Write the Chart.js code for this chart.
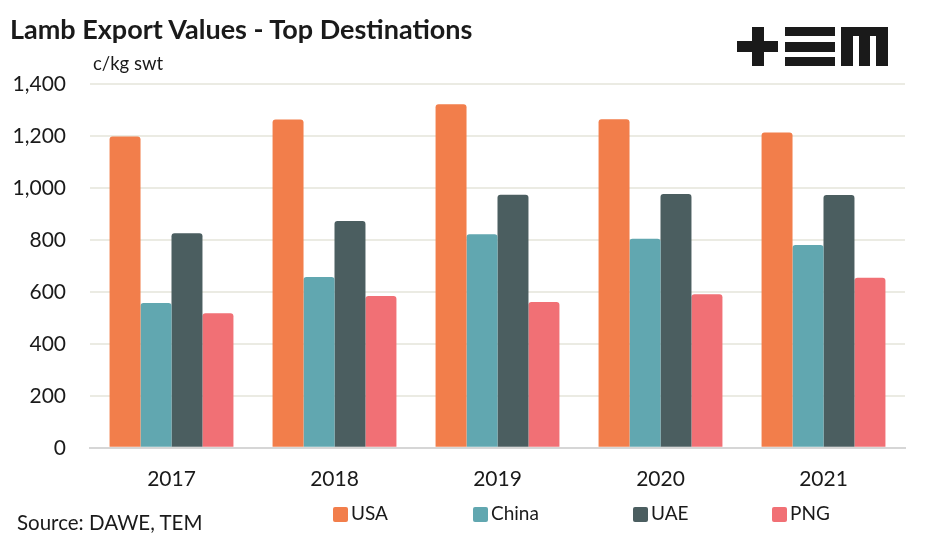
<!DOCTYPE html>
<html>
<head>
<meta charset="utf-8">
<script src="https://cdn.jsdelivr.net/npm/chart.js@4.4.1/dist/chart.umd.min.js"></script>
<style>
  body { margin: 0; background: #fff; font-family: Lato, "Open Sans", sans-serif; }
  #wrap { position: relative; width: 931px; height: 541px; }
  #titolo { position: absolute; left: 10px; top: 12px; font-size: 27px; font-weight: bold; color: #1a1a1a; }
  #unita { position: absolute; left: 93px; top: 52px; font-size: 18.5px; color: #1a1a1a; }
  #fonte { position: absolute; left: 17px; top: 510px; font-size: 20.5px; color: #1a1a1a; }
  .logo { position: absolute; background: #1a1a1a; }
  .voce { position: absolute; top: 502px; font-size: 19px; color: #1a1a1a; line-height: 22px; }
  .voce span { display: inline-block; width: 15px; height: 15px; border-radius: 2px; vertical-align: -2px; margin-right: 3px; }
</style>
</head>
<body>
<div id="wrap">
  <canvas id="grafico" width="931" height="541"></canvas>
  <div id="titolo">Lamb Export Values - Top Destinations</div>
  <div id="unita">c/kg swt</div>
  <div id="fonte">Source: DAWE, TEM</div>
  <div id="legenda"></div>
  <!-- logo +EM -->
  <div class="logo" style="left:752px;top:27px;width:12px;height:39px"></div>
  <div class="logo" style="left:737px;top:41px;width:41px;height:11px"></div>
  <div class="logo" style="left:785px;top:27px;width:50px;height:9px"></div>
  <div class="logo" style="left:785px;top:42px;width:50px;height:10px"></div>
  <div class="logo" style="left:785px;top:57px;width:50px;height:9px"></div>
  <div class="logo" style="left:841px;top:27px;width:47px;height:9px"></div>
  <div class="logo" style="left:841px;top:27px;width:12px;height:39px"></div>
  <div class="logo" style="left:859px;top:27px;width:11px;height:39px"></div>
  <div class="logo" style="left:876px;top:27px;width:12px;height:39px"></div>
</div>
<script>
// Dati
const anni = ['2017', '2018', '2019', '2020', '2021'];
const usa = [1198, 1263, 1322, 1264, 1213];
const china = [557, 657, 822, 804, 780];
const uae = [826, 873, 974, 977, 973];
const png = [518, 584, 561, 591, 654];

const coloreTesto = '#1a1a1a';
const colori = ['#F27E4B', '#61A7B0', '#4B5E60', '#F17075'];
const posLegenda = [333, 473, 633, 772]; // x di partenza delle voci

const grafico = new Chart(document.getElementById('grafico').getContext('2d'), {
    type: 'bar',
    data: {
        labels: anni,
        datasets: [
            { label: 'USA', data: usa, backgroundColor: colori[0] },
            { label: 'China', data: china, backgroundColor: colori[1] },
            { label: 'UAE', data: uae, backgroundColor: colori[2] },
            { label: 'PNG', data: png, backgroundColor: colori[3] }
        ]
    },
    options: {
        responsive: false,
        animation: false,
        layout: { padding: { top: 84, right: 26, left: 0, bottom: 38 } },
        datasets: {
            bar: {
                categoryPercentage: 0.76,
                barPercentage: 1.0,
                borderRadius: { topLeft: 3, topRight: 3 },
                borderSkipped: 'bottom'
            }
        },
        plugins: {
            legend: { display: false },
            tooltip: { enabled: false }
        },
        scales: {
            x: {
                grid: { display: false },
                border: { color: '#d6d6d6', width: 2 },
                ticks: { color: coloreTesto, font: { family: 'Lato', size: 21 }, padding: 11 }
            },
            y: {
                min: 0,
                max: 1400,
                afterFit: function(scale) { scale.width = 90; },
                ticks: {
                    stepSize: 200,
                    color: coloreTesto,
                    padding: 24,
                    font: { family: 'Lato', size: 21 }
                },
                grid: { color: '#ebebe3', lineWidth: 2, drawTicks: false },
                border: { display: false }
            }
        }
    }
});

// Legenda HTML costruita dai dataset
const legenda = document.getElementById('legenda');
grafico.data.datasets.forEach((ds, i) => {
    const voce = document.createElement('div');
    voce.className = 'voce';
    voce.style.left = posLegenda[i] + 'px';
    voce.innerHTML = '<span style="background:' + ds.backgroundColor + '"></span>' + ds.label;
    legenda.appendChild(voce);
});
</script>
</body>
</html>
